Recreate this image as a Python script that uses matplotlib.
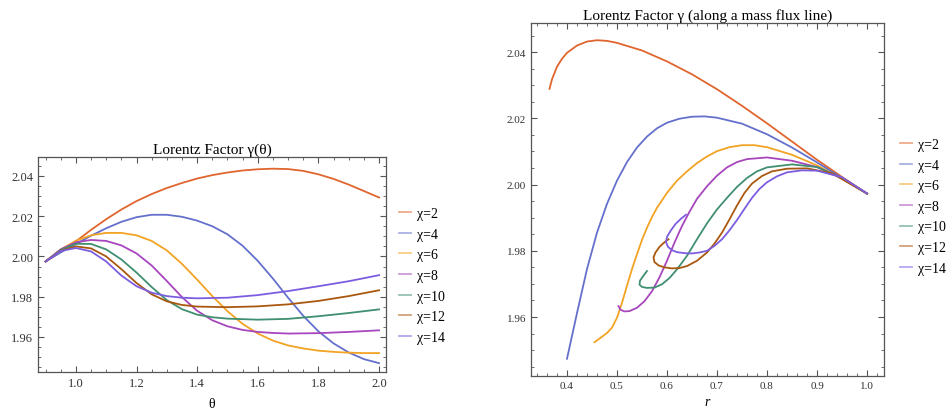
import numpy as np
import matplotlib
matplotlib.use("Agg")
import matplotlib.pyplot as plt
from matplotlib.ticker import MultipleLocator, FormatStrFormatter

plt.rcParams['font.family'] = ['Liberation Serif', 'DejaVu Serif']

labels = ["χ=2", "χ=4", "χ=6", "χ=8", "χ=10", "χ=12", "χ=14"]
colors = ["#e0652e", "#6470cc", "#f2a324", "#a746bd", "#3f8f70", "#a9580f", "#7c5de0"]

# ---- left panel: gamma vs theta ----
th_2 = [0.9, 0.95, 1.0, 1.05, 1.1, 1.15, 1.2, 1.25, 1.3, 1.35, 1.4, 1.45, 1.5, 1.55, 1.6, 1.65,
        1.7, 1.75, 1.8, 1.85, 1.9, 1.95, 2.0]
g_2 = [1.9975, 2.0025, 2.0075, 2.0132, 2.0185, 2.0233, 2.0275, 2.0310, 2.0340, 2.0365, 2.0387,
       2.0404, 2.0417, 2.0427, 2.0433, 2.0436, 2.0434, 2.0425, 2.0408, 2.0385, 2.0357, 2.0325, 2.0293]
th_4 = [0.9, 0.95, 1.0, 1.05, 1.1, 1.15, 1.2, 1.25, 1.3, 1.35, 1.4, 1.45, 1.5, 1.55, 1.6, 1.65,
        1.7, 1.75, 1.8, 1.85, 1.9, 1.95, 2.0]
g_4 = [1.9975, 2.0020, 2.0062, 2.0103, 2.0140, 2.0172, 2.0195, 2.0207, 2.0207, 2.0197, 2.0178,
       2.0150, 2.0110, 2.0053, 1.9978, 1.9890, 1.9795, 1.9705, 1.9628, 1.9568, 1.9523, 1.9490, 1.9470]
th_6 = [0.9, 0.95, 1.0, 1.05, 1.1, 1.15, 1.2, 1.25, 1.3, 1.35, 1.4, 1.45, 1.5, 1.55, 1.6, 1.65,
        1.7, 1.75, 1.8, 1.85, 1.9, 1.95, 2.0]
g_6 = [1.9975, 2.0035, 2.0078, 2.0105, 2.0117, 2.0117, 2.0105, 2.0077, 2.0030, 1.9963, 1.9885,
       1.9803, 1.9728, 1.9665, 1.9617, 1.9582, 1.9558, 1.9543, 1.9532, 1.9526, 1.9522, 1.9520, 1.9520]
th_8 = [0.9, 0.95, 1.0, 1.05, 1.1, 1.15, 1.2, 1.25, 1.3, 1.35, 1.4, 1.45, 1.5, 1.55, 1.6, 1.65,
        1.7, 1.8, 1.9, 2.0]
g_8 = [1.9975, 2.0035, 2.0070, 2.0082, 2.0077, 2.0055, 2.0015, 1.9955, 1.9878, 1.9798, 1.9730,
       1.9683, 1.9653, 1.9635, 1.9625, 1.9620, 1.9617, 1.9619, 1.9625, 1.9633]
th_10 = [0.9, 0.95, 1.0, 1.05, 1.1, 1.15, 1.2, 1.25, 1.3, 1.35, 1.4, 1.45, 1.5, 1.6, 1.7, 1.8,
         1.9, 2.0]
g_10 = [1.9975, 2.0032, 2.0063, 2.0062, 2.0035, 1.9985, 1.9920, 1.9848, 1.9783, 1.9738, 1.9711,
        1.9698, 1.9691, 1.9686, 1.9690, 1.9703, 1.9719, 1.9737]
th_12 = [0.9, 0.95, 1.0, 1.05, 1.1, 1.15, 1.2, 1.25, 1.3, 1.35, 1.4, 1.5, 1.6, 1.7, 1.8, 1.9, 2.0]
g_12 = [1.9975, 2.0028, 2.0050, 2.0040, 2.0000, 1.9937, 1.9868, 1.9812, 1.9777, 1.9759, 1.9751,
        1.9748, 1.9752, 1.9762, 1.9779, 1.9803, 1.9832]
th_14 = [0.9, 0.95, 1.0, 1.05, 1.1, 1.15, 1.2, 1.25, 1.3, 1.35, 1.4, 1.5, 1.6, 1.7, 1.8, 1.9, 2.0]
g_14 = [1.9975, 2.0027, 2.0042, 2.0025, 1.9975, 1.9905, 1.9852, 1.9820, 1.9803, 1.9795, 1.9792,
        1.9795, 1.9808, 1.9828, 1.9852, 1.9877, 1.9907]

# ---- right panel: gamma vs r (along a mass flux line) ----
r_2 = [0.365, 0.37, 0.38, 0.39, 0.40, 0.42, 0.44, 0.46, 0.48, 0.5, 0.55, 0.6, 0.65, 0.7, 0.75,
       0.8, 0.85, 0.9, 0.95, 1.0]
q_2 = [2.0289, 2.0318, 2.0356, 2.0380, 2.0398, 2.0420, 2.0432, 2.0436, 2.0434, 2.0428, 2.0405,
       2.0372, 2.0333, 2.0288, 2.0238, 2.0185, 2.0130, 2.0075, 2.0023, 1.9973]
r_4 = [0.4, 0.42, 0.44, 0.46, 0.48, 0.5, 0.52, 0.54, 0.56, 0.58, 0.6, 0.625, 0.65, 0.675, 0.7,
       0.75, 0.8, 0.85, 0.9, 0.95, 1.0]
q_4 = [1.9474, 1.9612, 1.9745, 1.9855, 1.9942, 2.0012, 2.0068, 2.0112, 2.0145, 2.0170, 2.0187,
       2.0199, 2.0205, 2.0206, 2.0202, 2.0184, 2.0152, 2.0112, 2.0067, 2.0020, 1.9973]
r_6 = [0.455, 0.465, 0.48, 0.49, 0.5, 0.51, 0.52, 0.53, 0.54, 0.55, 0.56, 0.57, 0.58, 0.6, 0.62,
       0.64, 0.66, 0.68, 0.7, 0.725, 0.75, 0.775, 0.8, 0.85, 0.9, 0.95, 1.0]
q_6 = [1.9524, 1.9535, 1.9552, 1.9568, 1.9598, 1.9643, 1.9695, 1.9745, 1.9790, 1.9833, 1.9870,
       1.9902, 1.9930, 1.9975, 2.0012, 2.0040, 2.0065, 2.0085, 2.0101, 2.0113, 2.0119, 2.0119,
       2.0113, 2.0090, 2.0058, 2.0018, 1.9973]
r_8 = [0.503, 0.507, 0.515, 0.525, 0.54, 0.555, 0.57, 0.585, 0.6, 0.615, 0.63, 0.645, 0.66, 0.68,
       0.7, 0.72, 0.74, 0.76, 0.8, 0.85, 0.9, 0.95, 1.0]
q_8 = [1.9633, 1.9622, 1.9617, 1.9618, 1.9628, 1.9648, 1.9678, 1.9720, 1.9770, 1.9825, 1.9875,
       1.9918, 1.9957, 1.9995, 2.0027, 2.0052, 2.0068, 2.0077, 2.0082, 2.0072, 2.0053, 2.0020, 1.9973]
r_10 = [0.56, 0.553, 0.546, 0.545, 0.55, 0.56, 0.575, 0.59, 0.605, 0.62, 0.64, 0.66, 0.68, 0.7,
        0.72, 0.74, 0.76, 0.78, 0.8, 0.85, 0.9, 0.95, 1.0]
q_10 = [1.9739, 1.9725, 1.9710, 1.9698, 1.9691, 1.9688, 1.9689, 1.9699, 1.9718, 1.9744, 1.9785,
        1.9835, 1.9883, 1.9925, 1.9960, 1.9993, 2.0020, 2.0040, 2.0052, 2.0061, 2.0053, 2.0020, 1.9973]
r_12 = [0.603, 0.595, 0.585, 0.577, 0.573, 0.575, 0.583, 0.595, 0.61, 0.625, 0.64, 0.66, 0.68,
        0.695, 0.71, 0.725, 0.74, 0.755, 0.77, 0.79, 0.81, 0.84, 0.88, 0.93, 1.0]
q_12 = [1.9835, 1.9826, 1.9812, 1.9795, 1.9780, 1.9766, 1.9756, 1.9750, 1.9747, 1.9748, 1.9754,
        1.9770, 1.9795, 1.9822, 1.9855, 1.9895, 1.9937, 1.9975, 2.0003, 2.0026, 2.0040, 2.0048,
        2.0049, 2.0034, 1.9973]
r_14 = [0.638, 0.628, 0.617, 0.607, 0.6, 0.598, 0.602, 0.61, 0.62, 0.635, 0.65, 0.665, 0.68, 0.695,
        0.71, 0.725, 0.74, 0.755, 0.77, 0.785, 0.8, 0.82, 0.84, 0.87, 0.9, 0.95, 1.0]
q_14 = [1.9909, 1.9897, 1.9881, 1.9860, 1.9842, 1.9826, 1.9812, 1.9802, 1.9796, 1.9793, 1.9792,
        1.9795, 1.9800, 1.9815, 1.9835, 1.9862, 1.9893, 1.9927, 1.9960, 1.9987, 2.0007, 2.0025,
        2.0037, 2.0043, 2.0042, 2.0022, 1.9973]

left_x = [th_2, th_4, th_6, th_8, th_10, th_12, th_14]
left_y = [g_2, g_4, g_6, g_8, g_10, g_12, g_14]
right_x = [r_2, r_4, r_6, r_8, r_10, r_12, r_14]
right_y = [q_2, q_4, q_6, q_8, q_10, q_12, q_14]

fig = plt.figure(figsize=(9.5, 4.1), dpi=100)
axL = fig.add_axes([38/950, 1-373/410, 348/950, 215/410])
axR = fig.add_axes([531/950, 1-377/410, 353/950, 353/410])

frame_col = "#555555"

def style(ax, xmaj, xmin, ymaj, ymin, fs):
    ax.xaxis.set_major_locator(MultipleLocator(xmaj))
    ax.xaxis.set_minor_locator(MultipleLocator(xmin))
    ax.yaxis.set_major_locator(MultipleLocator(ymaj))
    ax.yaxis.set_minor_locator(MultipleLocator(ymin))
    ax.tick_params(which="both", direction="in", top=True, right=True,
                   colors=frame_col, labelcolor="#333333", labelsize=fs)
    ax.tick_params(which="major", length=4, width=0.8)
    ax.tick_params(which="minor", length=2, width=0.6)
    for s in ax.spines.values():
        s.set_color(frame_col)
        s.set_linewidth(0.9)
    ax.yaxis.set_major_formatter(FormatStrFormatter("%.2f"))
    ax.xaxis.set_major_formatter(FormatStrFormatter("%.1f"))

def legend(ax, x, y):
    leg = ax.legend(loc="upper left", bbox_to_anchor=(x/950, 1-y/410),
                    bbox_transform=fig.transFigure, frameon=False, fontsize=10,
                    handlelength=0.9, handletextpad=0.4, labelspacing=0.55, borderpad=0)
    for h in leg.get_lines():
        h.set_alpha(0.55)

for xs, ys, c, lab in zip(left_x, left_y, colors, labels):
    axL.plot(xs, ys, color=c, lw=1.3, label=lab)
axL.set_xlim(0.875, 2.023)
axL.set_ylim(1.9426, 2.0494)
style(axL, 0.2, 0.05, 0.02, 0.005, 9)
axL.set_title("Lorentz Factor γ(θ)", fontsize=11, pad=3)
axL.set_xlabel("θ", fontsize=10, labelpad=6)
legend(axL, 392, 201)

for xs, ys, c, lab in zip(right_x, right_y, colors, labels):
    axR.plot(xs, ys, color=c, lw=1.3, label=lab)
axR.set_xlim(0.328, 1.034)
axR.set_ylim(1.9422, 2.0488)
style(axR, 0.1, 0.02, 0.02, 0.005, 8)
axR.set_title("Lorentz Factor γ (along a mass flux line)", fontsize=11, pad=3)
axR.set_xlabel("r", fontsize=10, style="italic", labelpad=4)
legend(axR, 893, 132)

fig.savefig("out.png", dpi=100)
